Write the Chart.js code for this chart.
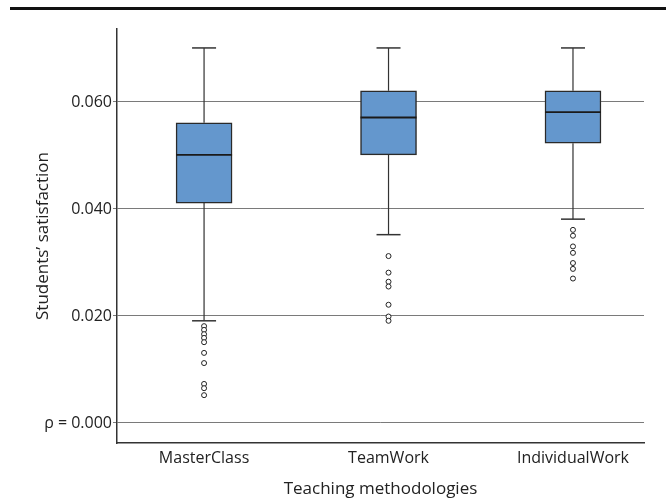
<!DOCTYPE html>
<html>
<head>
<meta charset="utf-8">
<script src="https://cdn.jsdelivr.net/npm/chart.js@4/dist/chart.umd.min.js"></script>
<style>
  html, body { margin: 0; padding: 0; background: #fff; }
  #wrap { width: 666px; height: 499px; }
</style>
</head>
<body>
<div id="wrap"><canvas id="chartCanvas" width="666" height="499"></canvas></div>
<script>
// data
const categories = ['MasterClass', 'TeamWork', 'IndividualWork'];
const whiskerLow = [0.0191, 0.0352, 0.0381];
const q1 = [0.0411, 0.0501, 0.0523];
const medians = [0.0501, 0.0571, 0.0581];
const q3 = [0.0561, 0.0621, 0.0621];
const whiskerHigh = [0.0701, 0.0701, 0.0701];
const outliers = [
    [0.0181, 0.0174, 0.0166, 0.0159, 0.0151, 0.0131, 0.0112, 0.0073, 0.0065, 0.0052],
    [0.0312, 0.0281, 0.0264, 0.0255, 0.0221, 0.0199, 0.0191],
    [0.0361, 0.0350, 0.0330, 0.0318, 0.0299, 0.0288, 0.0270]
];
const yTicks = [0, 0.02, 0.04, 0.06];

const FONT = "'Open Sans', 'Noto Sans', sans-serif";
const ink = '#222';

// build what the library needs
const boxData = categories.map((c, i) => ({ x: i + 1, y: [q1[i], q3[i]] }));
const medianData = categories.map((c, i) => ({ x: i + 1, y: medians[i] }));
const capData = [];
const whiskerData = [];
categories.forEach((c, i) => {
    capData.push({ x: i + 1, y: whiskerLow[i] }, { x: i + 1, y: whiskerHigh[i] });
    whiskerData.push({ x: i + 1, y: q3[i] }, { x: i + 1, y: whiskerHigh[i] }, { x: i + 1, y: null });
    whiskerData.push({ x: i + 1, y: q1[i] }, { x: i + 1, y: whiskerLow[i] }, { x: i + 1, y: null });
});
const outlierData = [];
outliers.forEach((list, i) => list.forEach(v => outlierData.push({ x: i + 1, y: v })));

// thick rule on top of the figure
const topRule = {
    id: 'topRule',
    beforeDraw(chart) {
        const ctx = chart.ctx;
        ctx.save();
        ctx.fillStyle = '#111';
        ctx.fillRect(10, 7, 656, 3);
        ctx.restore();
    }
};

const ctx = document.getElementById('chartCanvas').getContext('2d');
const chart = new Chart(ctx, {
    type: 'bar',
    data: {
        datasets: [
            {
                type: 'bar',
                data: boxData,
                backgroundColor: '#6497cd',
                borderColor: '#2a2a2a',
                borderWidth: 1.5,
                borderSkipped: false,
                barThickness: 56,
                order: 5
            },
            {
                type: 'line',
                data: whiskerData,
                borderColor: '#333',
                borderWidth: 1.2,
                pointRadius: 0,
                spanGaps: false,
                fill: false,
                order: 6
            },
            {
                type: 'scatter',
                data: capData,
                pointStyle: 'line',
                pointRadius: 12,
                borderColor: '#333',
                borderWidth: 1.5,
                order: 4
            },
            {
                type: 'scatter',
                data: medianData,
                pointStyle: 'line',
                pointRadius: 28,
                borderColor: '#1a1a1a',
                borderWidth: 1.8,
                order: 1
            },
            {
                type: 'scatter',
                data: outlierData,
                pointStyle: 'circle',
                pointRadius: 2.5,
                backgroundColor: '#fff',
                borderColor: '#222',
                borderWidth: 1,
                order: 2
            }
        ]
    },
    options: {
        responsive: false,
        animation: false,
        events: [],
        layout: { autoPadding: false, padding: { top: 29, right: 22, bottom: 0, left: 0 } },
        plugins: { legend: { display: false }, tooltip: { enabled: false } },
        scales: {
            x: {
                type: 'linear',
                offset: false,
                min: 0.528,
                max: 3.385,
                afterBuildTicks: axis => { axis.ticks = [1, 2, 3].map(v => ({ value: v })); },
                afterFit: axis => { axis.height = 56; },
                grid: { display: false, drawTicks: false, offset: false },
                border: { display: true, color: '#333', width: 1.5 },
                ticks: {
                    padding: 6,
                    color: ink,
                    font: { family: FONT, size: 16 },
                    callback: v => categories[v - 1]
                },
                title: {
                    display: true,
                    text: 'Teaching methodologies',
                    color: ink,
                    font: { family: FONT, size: 17 },
                    padding: { top: 0, bottom: 0 }
                }
            },
            y: {
                min: -0.00374,
                max: 0.07364,
                afterBuildTicks: axis => { axis.ticks = yTicks.map(v => ({ value: v })); },
                afterFit: axis => { axis.width = 117; },
                grid: { color: '#7a7a7a', lineWidth: 1, tickLength: 4, drawTicks: true },
                border: { display: true, color: '#333', width: 1.5 },
                ticks: {
                    padding: 1,
                    color: ink,
                    font: { family: FONT, size: 16 },
                    callback: v => v === 0 ? 'ρ = 0.000' : v.toFixed(3)
                },
                title: {
                    display: true,
                    text: 'Students’ satisfaction',
                    color: ink,
                    font: { family: FONT, size: 17 },
                    padding: { top: 33, bottom: 0 }
                }
            }
        }
    },
    plugins: [topRule]
});
</script>
</body>
</html>
